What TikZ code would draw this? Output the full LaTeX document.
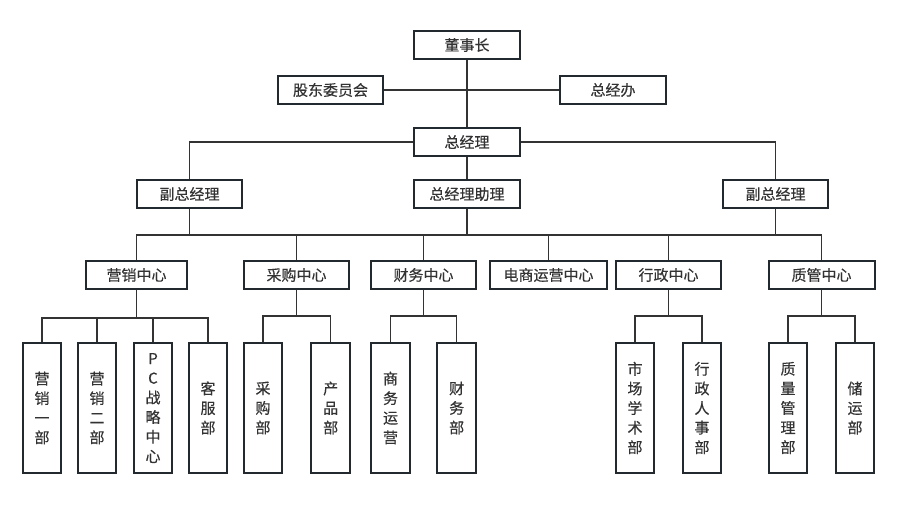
\documentclass[tikz,border=0pt]{standalone}
\usepackage{fontspec}
\setmainfont{Noto Sans CJK SC}[FakeBold=0.4]
\definecolor{boxc}{HTML}{222A30}
\definecolor{linec}{HTML}{333333}
\definecolor{txt}{HTML}{333333}
\begin{document}
\begin{tikzpicture}[x=1pt,y=-1pt,
  hbox/.style={draw=boxc, line width=2pt, minimum height=28pt, inner sep=0pt, text=txt,
    font=\fontsize{15}{19.6}\selectfont},
  vbox/.style={draw=boxc, line width=2pt, minimum width=38.6pt, minimum height=130.6pt, text width=20pt,
    inner sep=0pt, align=center, text=txt, font=\fontsize{15}{19.6}\selectfont},
  conn/.style={draw=linec, line width=1.5pt}]
\useasboundingbox (0,0) rectangle (900,522);
% top levels
\node[hbox, minimum width=106pt] (dsz) at (467,45) {董事长};
\node[hbox, minimum width=105pt] (gd) at (330.5,90) {股东委员会};
\node[hbox, minimum width=106pt] (zjb) at (613,90) {总经办};
\node[hbox, minimum width=106pt] (zjl) at (467,142) {总经理};
\node[hbox, minimum width=106pt] (zl) at (467,194) {总经理助理};
\node[hbox, minimum width=105pt] (fl) at (189.5,194) {副总经理};
\node[hbox, minimum width=105pt] (fr) at (775.5,194) {副总经理};
% centers
\node[hbox, minimum width=101pt] (yx) at (136.5,275) {营销中心};
\node[hbox, minimum width=105pt] (cg) at (296.5,275) {采购中心};
\node[hbox, minimum width=105pt] (cw) at (423.5,275) {财务中心};
\node[hbox, minimum width=117pt] (ds) at (548.5,275) {电商运营中心};
\node[hbox, minimum width=105pt] (xz) at (668.5,275) {行政中心};
\node[hbox, minimum width=106pt] (zg) at (821.5,275) {质管中心};
% departments
\node[vbox] (y1) at (42,408) {营\\销\\一\\部};
\node[vbox] (y2) at (97,408) {营\\销\\二\\部};
\node[vbox] (pc) at (153,408) {P\\C\\战\\略\\中\\心};
\node[vbox] (kf) at (208,408) {客\\服\\部};
\node[vbox] (cgb) at (263,408) {采\\购\\部};
\node[vbox] (cp) at (330.7,408) {产\\品\\部};
\node[vbox] (sw) at (390.5,408) {商\\务\\运\\营};
\node[vbox] (cwb) at (456.7,408) {财\\务\\部};
\node[vbox] (sc) at (635,408) {市\\场\\学\\术\\部};
\node[vbox] (xr) at (702,408) {行\\政\\人\\事\\部};
\node[vbox] (zlb) at (788,408) {质\\量\\管\\理\\部};
\node[vbox] (cy) at (855,408) {储\\运\\部};
% connectors
\draw[conn] (dsz.south) -- (zjl.north);
\draw[conn] (gd.east) -- (zjb.west);
\draw[conn] (zjl.south) -- (zl.north);
\draw[conn] (zjl.west) -| (fl.north);
\draw[conn] (zjl.east) -| (fr.north);
\coordinate (bus) at (467,235);
\draw[conn] (zl.south) -- (bus);
\draw[conn] (fl.south) -- (fl.south |- bus);
\draw[conn] (fr.south) -- (fr.south |- bus);
\foreach \n in {yx,cg,cw,ds,xz,zg} \draw[conn] (\n.north) |- (bus);
\coordinate (b1) at (136.5,318);
\draw[conn] (yx.south) -- (b1);
\foreach \n in {y1,y2,pc,kf} \draw[conn] (\n.north) |- (b1);
\coordinate (b2) at (296.5,316);
\draw[conn] (cg.south) -- (b2);
\foreach \n in {cgb,cp} \draw[conn] (\n.north) |- (b2);
\coordinate (b3) at (423.5,316);
\draw[conn] (cw.south) -- (b3);
\foreach \n in {sw,cwb} \draw[conn] (\n.north) |- (b3);
\coordinate (b4) at (668.5,316);
\draw[conn] (xz.south) -- (b4);
\foreach \n in {sc,xr} \draw[conn] (\n.north) |- (b4);
\coordinate (b5) at (821.5,316);
\draw[conn] (zg.south) -- (b5);
\foreach \n in {zlb,cy} \draw[conn] (\n.north) |- (b5);
\end{tikzpicture}
\end{document}
